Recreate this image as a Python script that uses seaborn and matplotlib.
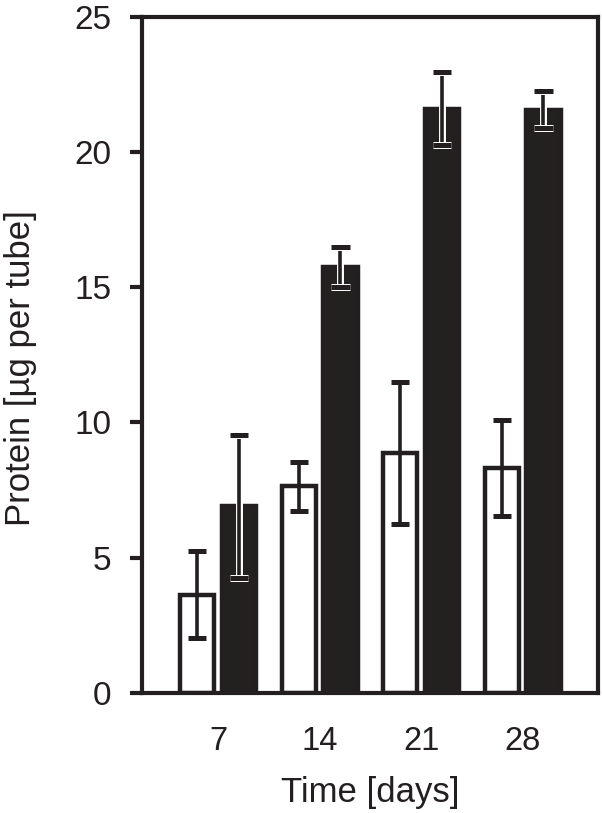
import numpy as np
import pandas as pd
import matplotlib
matplotlib.use('Agg')
import matplotlib.pyplot as plt
import matplotlib.patheffects as pe
import seaborn as sns

# values
days = ['7', '14', '21', '28']
open_mean = [3.63, 7.63, 8.87, 8.30]
open_err = [1.6, 0.9, 2.63, 1.78]
filled_mean = [6.89, 15.75, 21.6, 21.57]
filled_err = [2.65, 0.75, 1.35, 0.68]

df = pd.DataFrame({
    'Time': days * 2,
    'Group': ['open'] * 4 + ['filled'] * 4,
    'Protein': open_mean + filled_mean,
})

sns.set_style('white')
plt.rcParams['font.family'] = ['Liberation Sans', 'DejaVu Sans']

dark = '#231f20'
fig = plt.figure(figsize=(6.02, 8.13), dpi=100)
ax = fig.add_axes([0.236, 0.148, 0.757, 0.831])

sns.barplot(data=df, x='Time', y='Protein', hue='Group', order=days,
            palette={'open': 'white', 'filled': dark}, width=0.82,
            edgecolor=dark, linewidth=3.2, errorbar=None, legend=False, ax=ax)

errs = [open_err, filled_err]
bar_sets = list(ax.containers)
for k, cont in enumerate(bar_sets):
    # shrink each bar so the pair has a small white gap
    for p in cont.patches:
        w = p.get_width()
        p.set_x(p.get_x() + w * 0.09)
        p.set_width(w * 0.82)
    xs = [p.get_x() + p.get_width() / 2 for p in cont.patches]
    ys = [p.get_height() for p in cont.patches]
    eb = ax.errorbar(xs, ys, yerr=errs[k], fmt='none', ecolor=dark,
                     elinewidth=2.6, capsize=6.5, capthick=3.6, zorder=5)
    if k == 1:
        stroke = [pe.withStroke(linewidth=5, foreground='white')]
        for c in eb[1]:
            c.set_path_effects(stroke)
        for c in eb[2]:
            c.set_path_effects(stroke)

ax.set_ylim(0, 25)
ax.set_xlim(-0.75, 3.74)
ax.set_yticks([0, 5, 10, 15, 20, 25])
ax.set_xlabel('Time [days]', fontsize=25, color=dark, labelpad=14)
ax.set_ylabel('Protein [µg per tube]', fontsize=25, color=dark)
ax.yaxis.set_label_coords(-0.23, 0.481)
ax.tick_params(axis='y', direction='out', length=9, width=3, colors=dark,
               labelsize=24, pad=13, left=True)
ax.tick_params(axis='x', length=0, labelsize=23.5, colors=dark, pad=24)
for s in ax.spines.values():
    s.set_linewidth(3)
    s.set_color(dark)

fig.savefig('out.png', dpi=100)
